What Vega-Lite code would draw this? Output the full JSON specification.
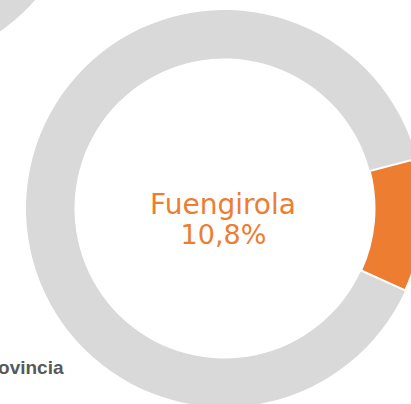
{
  "$schema": "https://vega.github.io/schema/vega-lite/v6.json",
  "width": 411,
  "height": 404,
  "padding": 0,
  "autosize": {"type": "none"},
  "background": "white",
  "config": {
    "view": {"stroke": null},
    "locale": {"number": {"decimal": ",", "thousands": ".", "grouping": [3], "currency": ["", " €"]}}
  },
  "data": {
    "values": [
      {"municipio": "(anterior)", "zona": "Provincia", "pct": 1.0, "col": 0, "row": 0},
      {"municipio": "Fuengirola", "zona": "Fuengirola", "pct": 0.108, "col": 1, "row": 1},
      {"municipio": "Fuengirola", "zona": "Provincia", "pct": 0.892, "col": 1, "row": 1}
    ]
  },
  "transform": [
    {"stack": "pct", "groupby": ["municipio"], "sort": [{"field": "zona", "order": "ascending"}], "as": ["t0", "t1"], "offset": "normalize"}
  ],
  "encoding": {
    "x": {"field": "col", "type": "quantitative", "scale": {"domain": [0, 1], "range": [-113.5, 224.5]}, "axis": null},
    "y": {"field": "row", "type": "quantitative", "scale": {"domain": [0, 1], "range": [-129.5, 208.5]}, "axis": null}
  },
  "layer": [
    {
      "mark": {"type": "arc", "innerRadius": 150, "outerRadius": 198.5},
      "encoding": {
        "theta": {"field": "t0", "type": "quantitative", "scale": {"domain": [0, 1], "range": [1.318, 7.601]}},
        "theta2": {"field": "t1"},
        "color": {
          "field": "zona", "type": "nominal",
          "scale": {"domain": ["Fuengirola", "Provincia"], "range": ["#ED7D31", "#D9D9D9"]},
          "legend": {
            "values": ["Provincia"], "orient": "none", "legendX": -45, "legendY": 358, "title": null,
            "labelFont": "Liberation Sans", "labelFontWeight": "bold", "labelFontSize": 19, "labelColor": "#595959",
            "symbolType": "square", "symbolSize": 100
          }
        }
      }
    },
    {
      "transform": [{"filter": "datum.zona === 'Fuengirola'"}],
      "mark": {"type": "arc", "innerRadius": 150, "outerRadius": 198.5, "stroke": "white", "strokeWidth": 2},
      "encoding": {
        "theta": {"field": "t0", "type": "quantitative", "scale": {"domain": [0, 1], "range": [1.318, 7.601]}},
        "theta2": {"field": "t1"},
        "color": {"field": "zona", "type": "nominal"}
      }
    },
    {
      "transform": [{"filter": "datum.zona === 'Fuengirola'"}],
      "mark": {"type": "text", "font": "DejaVu Sans", "fontSize": 28, "color": "#ED7D31", "align": "center", "baseline": "alphabetic", "dx": -1.5, "dy": 5.5},
      "encoding": {"text": {"field": "municipio"}}
    },
    {
      "transform": [{"filter": "datum.zona === 'Fuengirola'"}],
      "mark": {"type": "text", "font": "DejaVu Sans", "fontSize": 27, "color": "#ED7D31", "align": "center", "baseline": "alphabetic", "dx": -1, "dy": 35.5},
      "encoding": {"text": {"field": "pct", "type": "quantitative", "format": ".1%"}}
    }
  ]
}
